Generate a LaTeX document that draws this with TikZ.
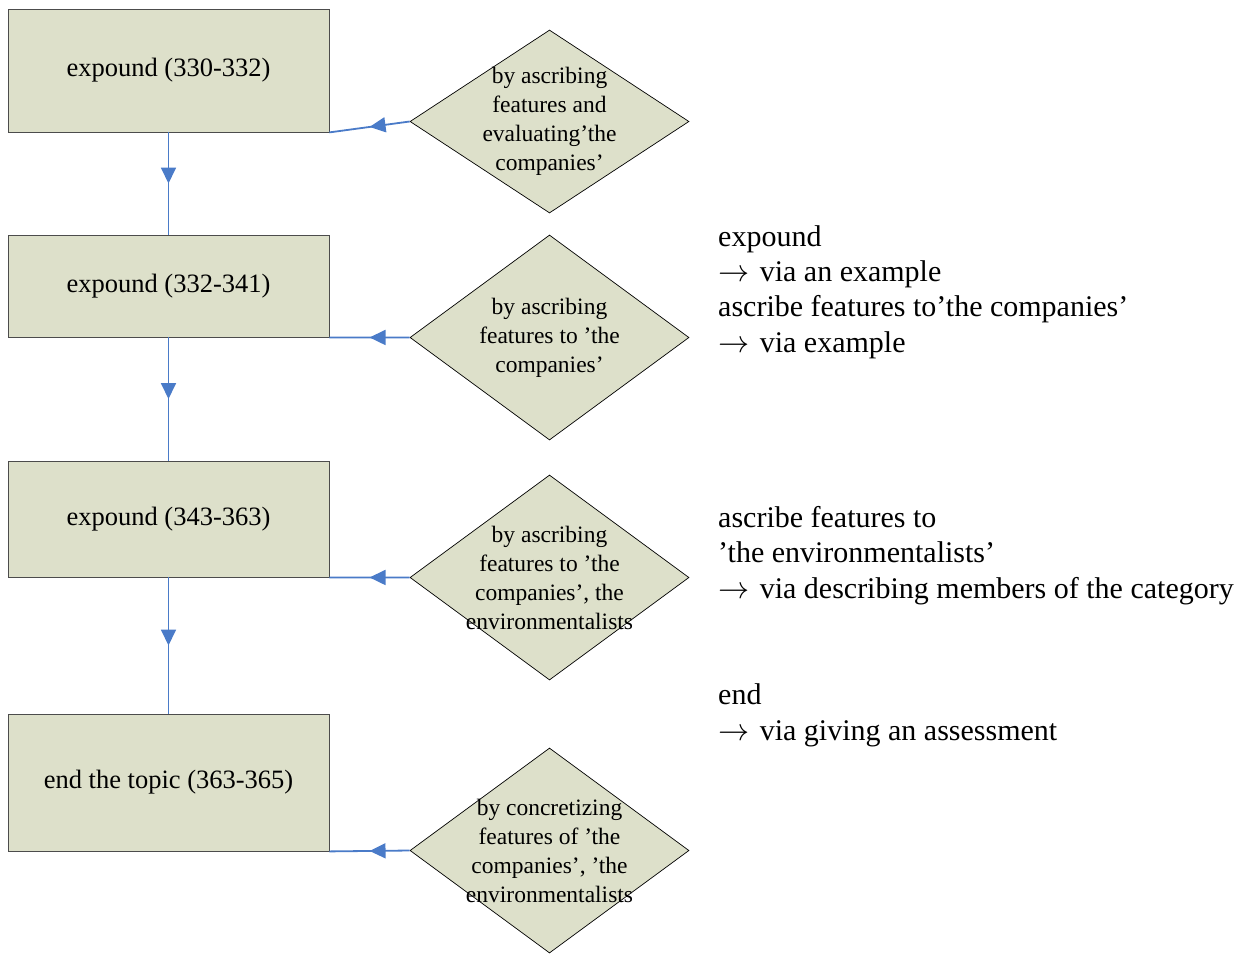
\documentclass[tikz,border=0pt]{standalone}
\usepackage{fontspec}
\setmainfont{Liberation Serif}
\usetikzlibrary{shapes.geometric,arrows.meta,decorations.markings}
\definecolor{boxfill}{HTML}{DDE0CA}
\definecolor{linkblue}{HTML}{4A7BC8}
\newcommand{\via}{\scalebox{1.25}{$\rightarrow$}\hspace{0.1em}}
\begin{document}
\begin{tikzpicture}[x=1pt,y=-1pt,
  stage/.style={draw=black!70, fill=boxfill, line width=0.8pt, inner sep=0pt,
    minimum width=321pt, font=\fontsize{26.5}{31}\selectfont},
  dia/.style={diamond, draw=black, fill=boxfill, line width=0.7pt, inner sep=0pt,
    minimum width=279pt, minimum height=205pt},
  diatext/.style={align=center, inner sep=0pt, font=\fontsize{23.5}{29}\selectfont},
  note/.style={align=left, anchor=base west, inner sep=0pt, font=\fontsize{30}{35.3}\selectfont},
  link/.style={draw=linkblue, line width=1.8pt, postaction={decorate},
    decoration={markings, mark=at position 0.5 with
      {\arrow[linkblue]{Triangle[length=16pt,width=15pt]}}}}]
\useasboundingbox (0,0) rectangle (1260,954);

% main stages
\node[stage, minimum height=123pt] (b1) at (168.5,70.5) {expound (330-332)};
\node[stage, minimum height=102pt] (b2) at (168.5,286) {expound (332-341)};
\node[stage, minimum height=116pt] (b3) at (168.5,519) {expound (343-363)};
\node[stage, minimum height=137pt] (b4) at (168.5,782.5) {end the topic (363-365)};

% how each stage is done
\node[dia, minimum height=183pt] (d1) at (549.5,121.5) {};
\node[dia] (d2) at (549.5,337.5) {};
\node[dia] (d3) at (549.5,577.5) {};
\node[dia] (d4) at (549.5,850.5) {};

\node[diatext] (t1) at (d1) {by ascribing\\features and\\evaluating’the\\companies’};
\node[diatext] (t2) at (d2) {by ascribing\\features to ’the\\companies’};
\node[diatext] (t3) at (d3) {by ascribing\\features to ’the\\companies’, the\\environmentalists};
\node[diatext] (t4) at (d4) {by concretizing\\features of ’the\\companies’, ’the\\environmentalists};

% sequence
\draw[link] (b1.south) -- (b2.north);
\draw[link] (b2.south) -- (b3.north);
\draw[link] (b3.south) -- (b4.north);

% manner links
\draw[link] (d1.west) -- (b1.south east);
\draw[link] (d2.west) -- (b2.south east);
\draw[link] (d3.west) -- (b3.south east);
\draw[link] (d4.west) -- (b4.south east);

% notes (anchored at the baseline of their last line)
\node[note] (n1) at (718,352) {expound\\\via{} via an example\\ascribe features to’the companies’\\\via{} via example};
\node[note] (n2) at (718,598) {ascribe features to\\’the environmentalists’\\\via{} via describing members of the category};
\node[note] (n3) at (718,740) {end\\\via{} via giving an assessment};
\end{tikzpicture}
\end{document}
